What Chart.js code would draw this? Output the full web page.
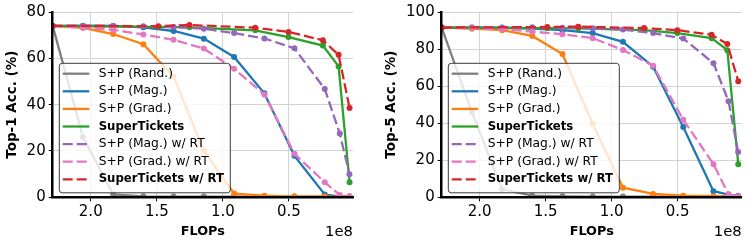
<!DOCTYPE html>
<html>
<head>
<meta charset="utf-8">
<script src="https://cdn.jsdelivr.net/npm/chart.js@4.4.1/dist/chart.umd.min.js"></script>
<style>
    body { margin: 0; background: #fff; width: 747px; height: 246px; position: relative; overflow: hidden; }
    .panel { position: absolute; top: 0; height: 246px; }
</style>
</head>
<body>
<div class="panel" style="left:0;width:373px"><canvas id="top1_chart" width="373" height="246"></canvas></div>
<div class="panel" style="left:375px;width:372px"><canvas id="top5_chart" width="372" height="246"></canvas></div>
<script>
// FLOPs (x 1e8) of the pruned models, and of the searched SuperTickets
const flopsPrune = [2.288, 2.059, 1.830, 1.602, 1.373, 1.144, 0.915, 0.686, 0.458, 0.229, 0.115, 0.042];
const flopsTickets = [2.288, 1.488, 1.253, 0.755, 0.503, 0.243, 0.124, 0.041];
const xTicks = [0.5, 1.0, 1.5, 2.0];

const seriesNames = ['S+P (Rand.)', 'S+P (Mag.)', 'S+P (Grad.)', 'SuperTickets',
                     'S+P (Mag.) w/ RT', 'S+P (Grad.) w/ RT', 'SuperTickets w/ RT'];

// Top-1 accuracy (%)
const rand1   = [74.0, 26.0, 1.3, 0.4, 0.3, 0.3, 0.3, 0.3, 0.3, 0.3, 0.3, 0.3];
const mag1    = [74.0, 74.1, 74.0, 73.4, 71.8, 68.5, 60.6, 44.9, 17.9, 1.2, 0.4, 0.3];
const grad1   = [74.0, 73.2, 70.5, 66.1, 52.1, 20.0, 1.6, 0.7, 0.3, 0.3, 0.3, 0.3];
const st1     = [73.9, 73.6, 73.4, 72.1, 69.2, 65.5, 56.5, 6.5];
const magRT1  = [74.0, 74.0, 74.0, 73.9, 73.5, 72.8, 70.9, 68.6, 64.3, 46.8, 27.5, 10.0];
const gradRT1 = [74.0, 73.2, 72.3, 70.3, 68.0, 64.2, 55.5, 44.4, 18.8, 6.5, 1.0, 0.3];
const stRT1   = [74.0, 73.9, 74.4, 73.2, 71.4, 67.8, 61.5, 38.6];

// Top-5 accuracy (%)
const rand5   = [91.6, 46.0, 4.3, 0.9, 0.5, 0.4, 0.4, 0.4, 0.4, 0.4, 0.4, 0.4];
const mag5    = [91.6, 91.7, 91.5, 91.0, 90.2, 88.6, 83.9, 70.5, 37.9, 3.3, 1.5, 0.8];
const grad5   = [91.6, 91.0, 90.2, 87.1, 77.3, 39.7, 5.2, 1.8, 0.9, 0.6, 0.5, 0.4];
const st5     = [91.5, 91.3, 91.2, 90.2, 88.6, 85.9, 79.4, 17.9];
const magRT5  = [91.6, 91.7, 91.7, 91.8, 91.5, 91.2, 90.5, 88.6, 85.7, 72.4, 51.9, 24.5];
const gradRT5 = [91.6, 91.3, 90.8, 89.4, 88.0, 85.9, 79.5, 71.0, 41.9, 17.9, 1.6, 0.5];
const stRT5   = [91.6, 91.9, 92.1, 91.3, 90.2, 87.7, 82.7, 62.6];

const seriesStyles = [
    {color: '#7f7f7f', dashed: false, bold: false},
    {color: '#1f77b4', dashed: false, bold: false},
    {color: '#ff7f0e', dashed: false, bold: false},
    {color: '#2ca02c', dashed: false, bold: true},
    {color: '#9467bd', dashed: true, bold: false},
    {color: '#e377c2', dashed: true, bold: false},
    {color: '#d62728', dashed: true, bold: true},
];
const DASH = [10, 4];
const FONT = '"DejaVu Sans", sans-serif';

// legend box drawn over the lines, like a matplotlib legend with framealpha
const legendPlugin = {
    id: 'boxLegend',
    afterDatasetsDraw(chart) {
        const ctx = chart.ctx;
        const area = chart.chartArea;
        const left = area.left + 6.6, top = area.top + 51.3;
        ctx.save();
        ctx.beginPath();
        ctx.roundRect(left, top, 171, 129.5, 3);
        ctx.fillStyle = 'rgba(255,255,255,0.8)';
        ctx.fill();
        ctx.strokeStyle = '#3a3a3a';
        ctx.lineWidth = 1;
        ctx.stroke();
        seriesNames.forEach((name, i) => {
            const st = seriesStyles[i];
            const y = top + 10.4 + i * 17.6;
            ctx.beginPath();
            ctx.setLineDash(st.dashed ? DASH : []);
            ctx.strokeStyle = st.color;
            ctx.lineWidth = 2.3;
            ctx.moveTo(left + 3.4, y);
            ctx.lineTo(left + 30, y);
            ctx.stroke();
            ctx.setLineDash([]);
            ctx.fillStyle = '#000';
            ctx.font = st.bold ? 'bold 11.7px ' + FONT : '12.3px ' + FONT;
            ctx.textBaseline = 'middle';
            ctx.textAlign = 'left';
            ctx.fillText(name, left + 39.4, y);
        });
        ctx.restore();
    },
    afterDraw(chart) {
        // axis offset text
        const ctx = chart.ctx;
        ctx.save();
        ctx.fillStyle = '#000';
        ctx.font = '14.8px ' + FONT;
        ctx.textAlign = 'right';
        ctx.textBaseline = 'middle';
        ctx.fillText('1e8', chart.chartArea.right, 231.7);
        ctx.restore();
    }
};

function makeChart(canvasId, yTitle, yMax, values, yAxisWidth, padRight, titlePad) {
    const datasets = values.map((vals, i) => {
        const st = seriesStyles[i];
        const flops = vals.length === flopsTickets.length ? flopsTickets : flopsPrune;
        return {
            label: seriesNames[i],
            data: flops.map((x, k) => ({x, y: vals[k]})),
            borderColor: st.color,
            backgroundColor: st.color,
            pointBackgroundColor: st.color,
            borderWidth: 2.3,
            borderDash: st.dashed ? DASH : [],
            pointRadius: 3,
            pointBorderWidth: 0,
            tension: 0,
            order: values.length - i
        };
    });

    const ctx = document.getElementById(canvasId).getContext('2d');
    return new Chart(ctx, {
        type: 'line',
        data: {datasets},
        plugins: [legendPlugin],
        options: {
            responsive: false,
            animation: false,
            layout: {padding: {top: 11, right: padRight, left: 0, bottom: 0}},
            plugins: {legend: {display: false}, tooltip: {enabled: false}},
            scales: {
                x: {
                    type: 'linear',
                    reverse: true,
                    min: 0.015,
                    max: 2.288,
                    afterBuildTicks: scale => { scale.ticks = xTicks.map(v => ({value: v})); },
                    afterFit: scale => { scale.height = 48.7; },
                    grid: {color: '#d3d3d3', lineWidth: 1, tickColor: '#000', tickLength: 4, tickWidth: 1},
                    border: {display: true, color: '#000', width: 2.5, z: 1},
                    ticks: {
                        color: '#000', padding: 2, maxRotation: 0,
                        font: {family: FONT, size: 15},
                        callback: v => v.toFixed(1)
                    },
                    title: {
                        display: true, text: 'FLOPs', color: '#000',
                        font: {family: FONT, size: 12.8, weight: 'bold'},
                        padding: {top: 0, bottom: 6.6}
                    }
                },
                y: {
                    min: 0,
                    max: yMax,
                    afterFit: scale => { scale.width = yAxisWidth; },
                    grid: {color: '#d3d3d3', lineWidth: 1, tickColor: '#000', tickLength: 4, tickWidth: 1},
                    border: {display: true, color: '#000', width: 2.5, z: 1},
                    ticks: {
                        color: '#000', padding: 3, stepSize: 20,
                        font: {family: FONT, size: 15}
                    },
                    title: {
                        display: true, text: yTitle, color: '#000',
                        font: {family: FONT, size: 13.5, weight: 'bold'},
                        padding: {top: titlePad, bottom: 0}
                    }
                }
            }
        }
    });
}

document.addEventListener('DOMContentLoaded', () => {
    makeChart('top1_chart', 'Top-1 Acc. (%)', 80,
        [rand1, mag1, grad1, st1, magRT1, gradRT1, stRT1], 52.7, 20, 4.4);
    makeChart('top5_chart', 'Top-5 Acc. (%)', 100,
        [rand5, mag5, grad5, st5, magRT5, gradRT5, stRT5], 66.7, 5.3, 8.4);
});
</script>
</body>
</html>
